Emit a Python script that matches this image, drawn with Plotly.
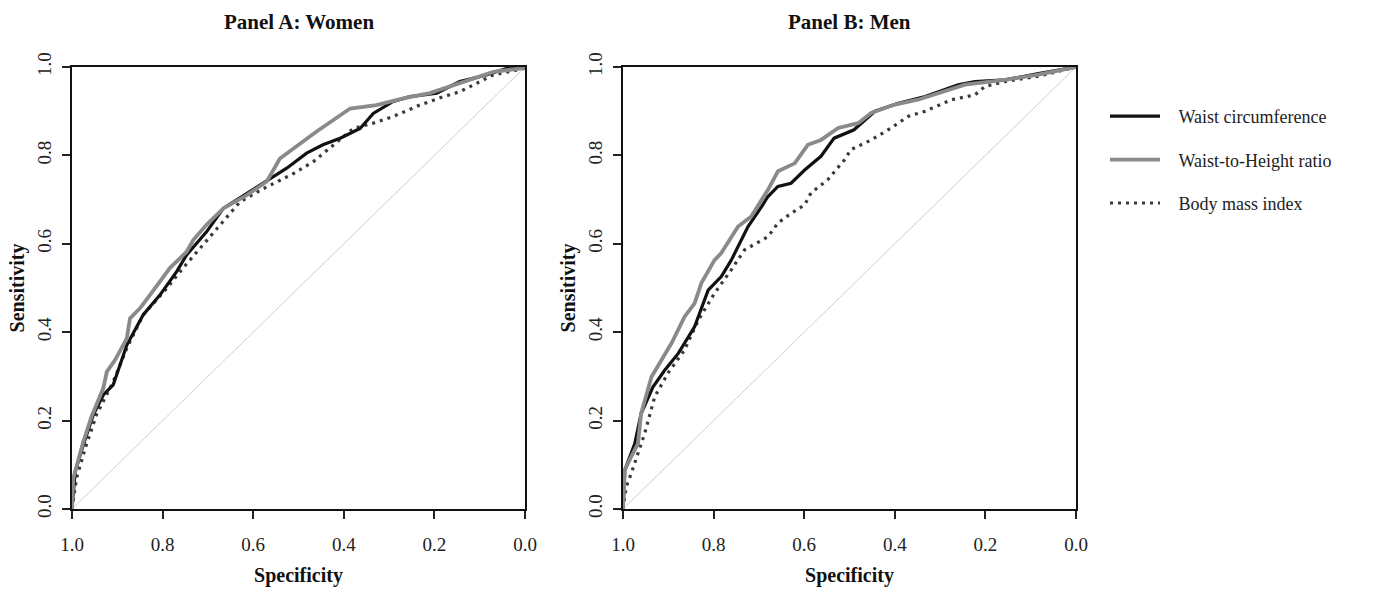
import plotly.graph_objects as go

# ---- Data ----
# Panel A: Women
a_wc_spec = [1.0, 0.993, 0.975, 0.953, 0.931, 0.909, 0.879, 0.843, 0.806, 0.769, 0.747, 0.703, 0.666, 0.614, 0.570, 0.526, 0.482, 0.446, 0.408, 0.364, 0.335, 0.291, 0.254, 0.195, 0.144, 0.085, 0.040, 0.0, 0.0]
a_wc_sens = [0.0, 0.084, 0.145, 0.213, 0.258, 0.281, 0.371, 0.439, 0.484, 0.537, 0.575, 0.627, 0.680, 0.714, 0.741, 0.771, 0.805, 0.824, 0.839, 0.861, 0.895, 0.922, 0.933, 0.941, 0.967, 0.982, 0.997, 0.998, 1.0]

a_wht_spec = [1.0, 0.997, 0.975, 0.957, 0.931, 0.923, 0.905, 0.879, 0.872, 0.850, 0.828, 0.802, 0.784, 0.747, 0.732, 0.703, 0.666, 0.614, 0.570, 0.541, 0.497, 0.460, 0.423, 0.386, 0.328, 0.269, 0.210, 0.158, 0.099, 0.070, 0.0, 0.0]
a_wht_sens = [0.0, 0.070, 0.152, 0.209, 0.273, 0.311, 0.337, 0.386, 0.431, 0.454, 0.484, 0.522, 0.545, 0.582, 0.609, 0.643, 0.680, 0.710, 0.741, 0.793, 0.827, 0.854, 0.880, 0.906, 0.914, 0.929, 0.941, 0.959, 0.978, 0.989, 0.998, 1.0]

a_bmi_spec = [1.0, 0.990, 0.971, 0.946, 0.909, 0.879, 0.843, 0.791, 0.755, 0.717, 0.673, 0.629, 0.577, 0.511, 0.467, 0.423, 0.379, 0.335, 0.291, 0.232, 0.180, 0.144, 0.099, 0.070, 0.0, 0.0]
a_bmi_sens = [0.0, 0.070, 0.137, 0.213, 0.288, 0.364, 0.439, 0.499, 0.545, 0.590, 0.643, 0.695, 0.725, 0.759, 0.786, 0.824, 0.861, 0.873, 0.888, 0.914, 0.933, 0.944, 0.967, 0.982, 0.997, 1.0]

# Panel B: Men
b_wc_spec = [1.0, 0.996, 0.974, 0.960, 0.934, 0.908, 0.878, 0.842, 0.812, 0.783, 0.761, 0.746, 0.724, 0.694, 0.680, 0.658, 0.629, 0.599, 0.563, 0.534, 0.490, 0.444, 0.392, 0.333, 0.260, 0.223, 0.157, 0.083, 0.0]
b_wc_sens = [0.0, 0.088, 0.148, 0.216, 0.276, 0.314, 0.352, 0.412, 0.495, 0.526, 0.563, 0.594, 0.639, 0.684, 0.707, 0.730, 0.737, 0.767, 0.798, 0.839, 0.858, 0.900, 0.918, 0.933, 0.960, 0.967, 0.971, 0.985, 1.0]

b_wht_spec = [1.0, 0.996, 0.982, 0.967, 0.960, 0.937, 0.915, 0.893, 0.864, 0.842, 0.827, 0.798, 0.783, 0.746, 0.717, 0.680, 0.658, 0.621, 0.592, 0.563, 0.525, 0.481, 0.452, 0.400, 0.349, 0.304, 0.245, 0.157, 0.083, 0.0]
b_wht_sens = [0.0, 0.088, 0.118, 0.148, 0.216, 0.299, 0.337, 0.375, 0.435, 0.465, 0.511, 0.563, 0.579, 0.639, 0.662, 0.722, 0.764, 0.782, 0.824, 0.835, 0.862, 0.873, 0.896, 0.915, 0.926, 0.941, 0.960, 0.971, 0.983, 1.0]

b_bmi_spec = [1.0, 0.993, 0.982, 0.952, 0.930, 0.901, 0.864, 0.834, 0.798, 0.761, 0.732, 0.680, 0.658, 0.629, 0.599, 0.585, 0.548, 0.511, 0.497, 0.452, 0.408, 0.371, 0.333, 0.275, 0.223, 0.201, 0.157, 0.083, 0.0]
b_bmi_sens = [0.0, 0.050, 0.080, 0.171, 0.254, 0.307, 0.360, 0.427, 0.488, 0.541, 0.586, 0.616, 0.647, 0.669, 0.688, 0.715, 0.745, 0.790, 0.813, 0.835, 0.862, 0.888, 0.900, 0.926, 0.937, 0.956, 0.967, 0.979, 1.0]

diag = [1.0, 0.0]
diag_sens = [0.0, 1.0]

tick_vals = [0.0, 0.2, 0.4, 0.6, 0.8, 1.0]
tick_text = ["0.0", "0.2", "0.4", "0.6", "0.8", "1.0"]

series_names = ["Waist circumference", "Waist-to-Height ratio", "Body mass index"]
panel_titles = ["Panel A: Women", "Panel B: Men"]

FONT = "Liberation Serif, Times New Roman, serif"
W, H = 1400, 592

fig = go.Figure()

styles = [
    dict(color="#111111", width=3.2),
    dict(color="#8a8a8a", width=3.8),
    dict(color="#3a3a3a", width=3.2, dash="3px,5px"),
]

panels = [
    ("x", "y", [(a_wc_spec, a_wc_sens), (a_wht_spec, a_wht_sens), (a_bmi_spec, a_bmi_sens)], False),
    ("x2", "y2", [(b_wc_spec, b_wc_sens), (b_wht_spec, b_wht_sens), (b_bmi_spec, b_bmi_sens)], True),
]

GAP = "\u00a0\u00a0\u00a0"
for xa, ya, data, show in panels:
    fig.add_trace(go.Scatter(x=diag, y=diag_sens, mode="lines", xaxis=xa, yaxis=ya,
                             line=dict(color="#cfcfcf", width=1), showlegend=False, hoverinfo="skip"))
    for idx in [2, 0, 1]:
        sx, sy = data[idx]
        fig.add_trace(go.Scatter(x=sx, y=sy, mode="lines", xaxis=xa, yaxis=ya,
                                 name=GAP + series_names[idx], line=styles[idx],
                                 showlegend=show, legendrank=idx + 1,
                                 legendgroup=f"g{idx}"))

def px_x(p):
    return p / W

def px_y(p):
    return 1 - p / H

ax_common = dict(
    range=[1.0, 0.0], tickvals=tick_vals, ticktext=tick_text,
    ticks="outside", ticklen=8, tickwidth=1.5, tickcolor="#222",
    showline=True, linecolor="#111", linewidth=2, mirror=True,
    showgrid=False, zeroline=False, automargin=False, ticklabelstandoff=9,
    tickfont=dict(family=FONT, size=19, color="#222"),
    title=dict(text="<b>Specificity</b>", font=dict(family=FONT, size=20, color="#111"), standoff=14),
)
ay_common = dict(
    range=[0.0, 1.0], tickvals=tick_vals, ticktext=tick_text,
    ticks="outside", ticklen=8, tickwidth=1.5, tickcolor="#222",
    showline=True, linecolor="#111", linewidth=2, mirror=True,
    showgrid=False, zeroline=False, tickangle=-90, automargin=False, ticklabelstandoff=3,
    tickfont=dict(family=FONT, size=19, color="#222"),
    title=dict(text="<b>Sensitivity</b>", font=dict(family=FONT, size=20, color="#111"), standoff=4),
)

top, bottom = 67, 509
fig.update_layout(
    template="none",
    width=W, height=H,
    margin=dict(l=0, r=0, t=0, b=0, autoexpand=False),
    paper_bgcolor="white", plot_bgcolor="white",
    font=dict(family=FONT, color="#111"),
    xaxis=dict(ax_common, domain=[px_x(72), px_x(525)], anchor="y"),
    yaxis=dict(ay_common, domain=[px_y(bottom), px_y(top)], anchor="x"),
    xaxis2=dict(ax_common, domain=[px_x(623), px_x(1076)], anchor="y2"),
    yaxis2=dict(ay_common, domain=[px_y(bottom), px_y(top)], anchor="x2"),
    legend=dict(
        x=px_x(1105), y=px_y(98), xanchor="left", yanchor="top",
        font=dict(family=FONT, size=18, color="#222"),
        tracegroupgap=17, itemwidth=50, bgcolor="rgba(0,0,0,0)",
        traceorder="grouped",
    ),
    annotations=[
        dict(text=f"<b>{panel_titles[0]}</b>", x=(72 + 525) / 2 / W, y=px_y(22), xref="paper", yref="paper",
             showarrow=False, font=dict(family=FONT, size=21, color="#111"), xanchor="center", yanchor="middle"),
        dict(text=f"<b>{panel_titles[1]}</b>", x=(623 + 1076) / 2 / W, y=px_y(22), xref="paper", yref="paper",
             showarrow=False, font=dict(family=FONT, size=21, color="#111"), xanchor="center", yanchor="middle"),
    ],
)

fig.write_html("out.html", config={"displayModeBar": False},
               post_script="document.body.style.margin='0';")
